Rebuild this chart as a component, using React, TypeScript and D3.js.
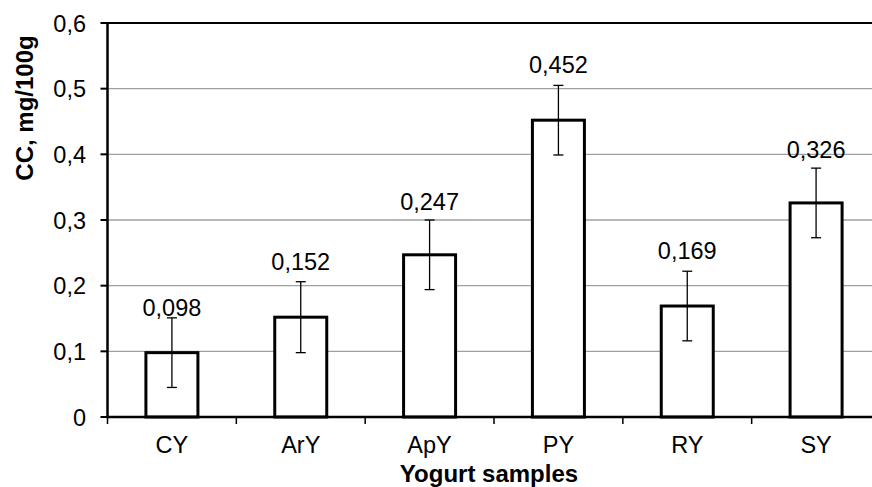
import React from "react";
import * as d3 from "d3";

const categories = ["CY", "ArY", "ApY", "PY", "RY", "SY"];
const values = [0.098, 0.152, 0.247, 0.452, 0.169, 0.326];
const errors = [0.053, 0.054, 0.053, 0.053, 0.053, 0.053];
const valueLabels = ["0,098", "0,152", "0,247", "0,452", "0,169", "0,326"];
const yTicks = [0, 0.1, 0.2, 0.3, 0.4, 0.5, 0.6];
const yTickLabels = ["0", "0,1", "0,2", "0,3", "0,4", "0,5", "0,6"];
const xTitle = "Yogurt samples";
const yTitle = "CC, mg/100g";

// layout (not data)
const W = 872;
const H = 487;
const left = 107.5;
const right = 880.5;
const top = 23;
const bottom = 417;
const labelNudge = [10, 0, 2, 0, 0, 2];
const FONT = "'Liberation Sans', Arial, sans-serif";

export default function App() {
  const x = d3.scaleBand<string>().domain(categories).range([left, right]).paddingInner(0).paddingOuter(0);
  const y = d3.scaleLinear().domain([0, 0.6]).range([bottom, top]);
  const bw = 52;
  const bandTicks = d3.range(categories.length + 1).map((i) => left + i * x.step());

  return (
    <svg width={W} height={H} style={{ position: "absolute", left: 0, top: 0, background: "#fff" }} fontFamily={FONT}>
      <rect x={0} y={0} width={W} height={H} fill="#fff" />
      {/* gridlines */}
      {yTicks.slice(1, -1).map((t) => (
        <line key={"g" + t} x1={left} x2={right} y1={y(t)} y2={y(t)} stroke="#a0a0a0" strokeWidth={1.3} />
      ))}
      {/* top border */}
      <line x1={left} x2={right} y1={y(0.6)} y2={y(0.6)} stroke="#000" strokeWidth={2} />
      {/* bars */}
      {categories.map((c, i) => {
        const cx = (x(c) as number) + x.bandwidth() / 2;
        return (
          <rect key={"b" + c} x={cx - bw / 2} y={y(values[i])} width={bw} height={y(0) - y(values[i])}
            fill="#fff" stroke="#000" strokeWidth={3} />
        );
      })}
      {/* error bars */}
      {categories.map((c, i) => {
        const cx = (x(c) as number) + x.bandwidth() / 2;
        const yt = y(values[i] + errors[i]);
        const yb = y(values[i] - errors[i]);
        return (
          <g key={"e" + c} stroke="#000" strokeWidth={1.3}>
            <line x1={cx} x2={cx} y1={yt} y2={yb} />
            <line x1={cx - 5} x2={cx + 5} y1={yt} y2={yt} />
            <line x1={cx - 5} x2={cx + 5} y1={yb} y2={yb} />
          </g>
        );
      })}
      {/* value labels */}
      {categories.map((c, i) => {
        const cx = (x(c) as number) + x.bandwidth() / 2;
        return (
          <text key={"v" + c} x={cx} y={y(values[i]) - 47 + labelNudge[i]} textAnchor="middle" fontSize={23.5} fill="#000">
            {valueLabels[i]}
          </text>
        );
      })}
      {/* axes */}
      <line x1={left} x2={left} y1={top - 1} y2={bottom + 1} stroke="#000" strokeWidth={2.5} />
      <line x1={left - 1} x2={right} y1={bottom} y2={bottom} stroke="#000" strokeWidth={2.5} />
      {yTicks.map((t, i) => (
        <g key={"yt" + t}>
          <line x1={left - 7} x2={left} y1={y(t)} y2={y(t)} stroke="#000" strokeWidth={2} />
          <text x={86} y={y(t) + 8.5} textAnchor="end" fontSize={23.5} fill="#000">{yTickLabels[i]}</text>
        </g>
      ))}
      {bandTicks.map((tx, i) => (
        <line key={"xt" + i} x1={tx} x2={tx} y1={bottom} y2={bottom + 7} stroke="#000" strokeWidth={1.5} />
      ))}
      {categories.map((c) => (
        <text key={"c" + c} x={(x(c) as number) + x.bandwidth() / 2} y={453} textAnchor="middle" fontSize={23.5} fill="#000">
          {c}
        </text>
      ))}
      <text x={489} y={481.5} textAnchor="middle" fontSize={24} fontWeight="bold" fill="#000">{xTitle}</text>
      <text transform={`translate(33,108) rotate(-90)`} textAnchor="middle" fontSize={24} fontWeight="bold" fill="#000">{yTitle}</text>
    </svg>
  );
}
